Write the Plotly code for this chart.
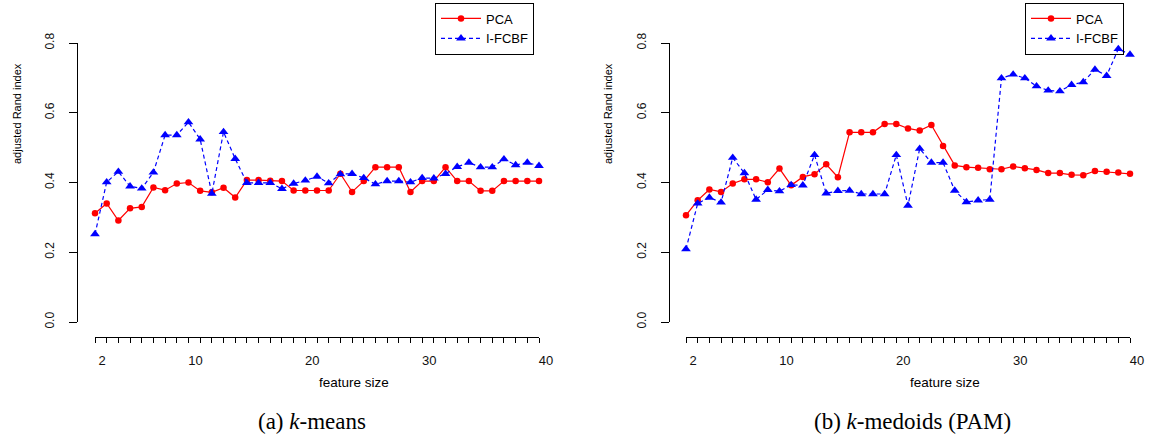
import plotly.graph_objects as go

# ---------------- data ----------------
feature_size = list(range(2, 41))

kmeans_pca = [0.312, 0.340, 0.291, 0.326, 0.330, 0.386, 0.378, 0.397, 0.400, 0.376,
              0.372, 0.385, 0.357, 0.407, 0.407, 0.405, 0.404, 0.377, 0.377, 0.377,
              0.377, 0.425, 0.373, 0.404, 0.444, 0.444, 0.444, 0.373, 0.404, 0.404,
              0.444, 0.404, 0.404, 0.376, 0.376, 0.404, 0.404, 0.404, 0.404]
kmeans_ifcbf = [0.252, 0.401, 0.431, 0.389, 0.383, 0.429, 0.536, 0.536, 0.573, 0.524,
                0.368, 0.545, 0.468, 0.399, 0.399, 0.399, 0.382, 0.397, 0.406, 0.417,
                0.398, 0.424, 0.425, 0.413, 0.395, 0.404, 0.404, 0.401, 0.413, 0.412,
                0.425, 0.445, 0.457, 0.444, 0.444, 0.467, 0.450, 0.457, 0.448]

pam_pca = [0.306, 0.349, 0.380, 0.373, 0.397, 0.409, 0.409, 0.401, 0.440, 0.392,
           0.416, 0.424, 0.452, 0.415, 0.544, 0.544, 0.544, 0.568, 0.568, 0.555,
           0.549, 0.565, 0.505, 0.449, 0.444, 0.442, 0.438, 0.438, 0.446, 0.441,
           0.436, 0.427, 0.427, 0.422, 0.421, 0.433, 0.431, 0.429, 0.425]
pam_ifcbf = [0.209, 0.340, 0.357, 0.343, 0.471, 0.427, 0.351, 0.379, 0.375, 0.393,
             0.392, 0.479, 0.369, 0.376, 0.377, 0.367, 0.367, 0.367, 0.479, 0.334,
             0.497, 0.457, 0.457, 0.377, 0.344, 0.349, 0.351, 0.699, 0.710, 0.699,
             0.676, 0.664, 0.662, 0.680, 0.688, 0.724, 0.706, 0.783, 0.767]

series_names = ["PCA", "I-FCBF"]
x_labelled = [2, 10, 20, 30, 40]
y_ticks = [0.0, 0.2, 0.4, 0.6, 0.8]
y_tick_labels = ["0.0", "0.2", "0.4", "0.6", "0.8"]
captions = ["(a) <i>k</i>-means", "(b) <i>k</i>-medoids (PAM)"]
x_title = "feature size"
y_title = "adjusted Rand index"

# ---------------- layout helpers ----------------
W, H = 1152, 436
px = lambda v: v / W
py = lambda v: 1 - v / H

SANS = "Liberation Sans, Arial, sans-serif"
SERIF = "Liberation Serif, Times New Roman, serif"

fig = go.Figure()

panels = [
    dict(pca=kmeans_pca, fc=kmeans_ifcbf, xa="x", ya="y", legend="legend"),
    dict(pca=pam_pca, fc=pam_ifcbf, xa="x2", ya="y2", legend="legend2"),
]
for p in panels:
    fig.add_trace(go.Scatter(
        x=feature_size, y=p["pca"], name=series_names[0], mode="lines+markers",
        xaxis=p["xa"], yaxis=p["ya"], legend=p["legend"], cliponaxis=False,
        line=dict(color="#ff0000", width=1.2),
        marker=dict(symbol="circle", size=6.5, color="#ff0000")))
    fig.add_trace(go.Scatter(
        x=feature_size, y=p["fc"], name=series_names[1], mode="lines+markers",
        xaxis=p["xa"], yaxis=p["ya"], legend=p["legend"], cliponaxis=False,
        line=dict(color="#0000ff", width=1.2, dash="4px,3px"),
        marker=dict(symbol="triangle-up", size=8.5, color="#0000ff")))

x_ticktext = [str(v) if v in x_labelled else "" for v in feature_size]

def xaxis(dom, ypos):
    return dict(domain=dom, range=[2, 40], anchor="free", position=ypos,
                tickmode="array", tickvals=feature_size, ticktext=x_ticktext,
                ticks="outside", ticklen=5, tickwidth=1, tickcolor="#000",
                showline=True, linecolor="#000", linewidth=1,
                showgrid=False, zeroline=False, ticklabelstandoff=6,
                ticklabelshift=7,
                tickfont=dict(family=SANS, size=13, color="#111"))

def yaxis(pos):
    return dict(domain=[py(322), py(43)], range=[0, 0.8], anchor="free", position=pos,
                tickmode="array", tickvals=y_ticks, ticktext=y_tick_labels,
                ticks="outside", ticklen=8, tickwidth=1, tickcolor="#000",
                tickangle=-90, showline=True, linecolor="#000", linewidth=1,
                showgrid=False, zeroline=False, ticklabelstandoff=10,
                tickfont=dict(family=SANS, size=12, color="#111"))

legend_style = dict(bgcolor="rgba(255,255,255,0)", bordercolor="#000", borderwidth=1,
                    font=dict(family=SANS, size=13, color="#000"),
                    xanchor="right", yanchor="middle", tracegroupgap=0,
                    itemwidth=40)

fig.update_layout(
    width=W, height=H, margin=dict(l=0, r=0, t=0, b=0, autoexpand=False),
    paper_bgcolor="white", plot_bgcolor="white",
    xaxis=xaxis([px(95), px(539)], py(337)),
    yaxis=yaxis(px(77)),
    xaxis2=xaxis([px(686), px(1130)], py(337)),
    yaxis2=yaxis(px(669)),
    legend=dict(x=px(534), y=py(28.5), **legend_style),
    legend2=dict(x=px(1124), y=py(28.5), **legend_style),
)

annos = []
for cx_title, yx in [(354, 17), (945, 608)]:
    annos.append(dict(x=px(cx_title), y=py(382), xref="paper", yref="paper",
                      text=x_title, showarrow=False, xanchor="center", yanchor="middle",
                      font=dict(family=SANS, size=13.5, color="#000")))
    annos.append(dict(x=px(yx), y=py(114), xref="paper", yref="paper",
                      text=y_title, showarrow=False, textangle=-90,
                      xanchor="center", yanchor="middle",
                      font=dict(family=SANS, size=11, color="#000")))
for cap, cx in zip(captions, [312, 912]):
    annos.append(dict(x=px(cx), y=py(421), xref="paper", yref="paper",
                      text=cap, showarrow=False, xanchor="center", yanchor="middle",
                      font=dict(family=SERIF, size=23, color="#000")))
fig.update_layout(annotations=annos)

fig.write_html("out.html",
               post_script="document.body.style.margin='0';document.body.style.padding='0';")
